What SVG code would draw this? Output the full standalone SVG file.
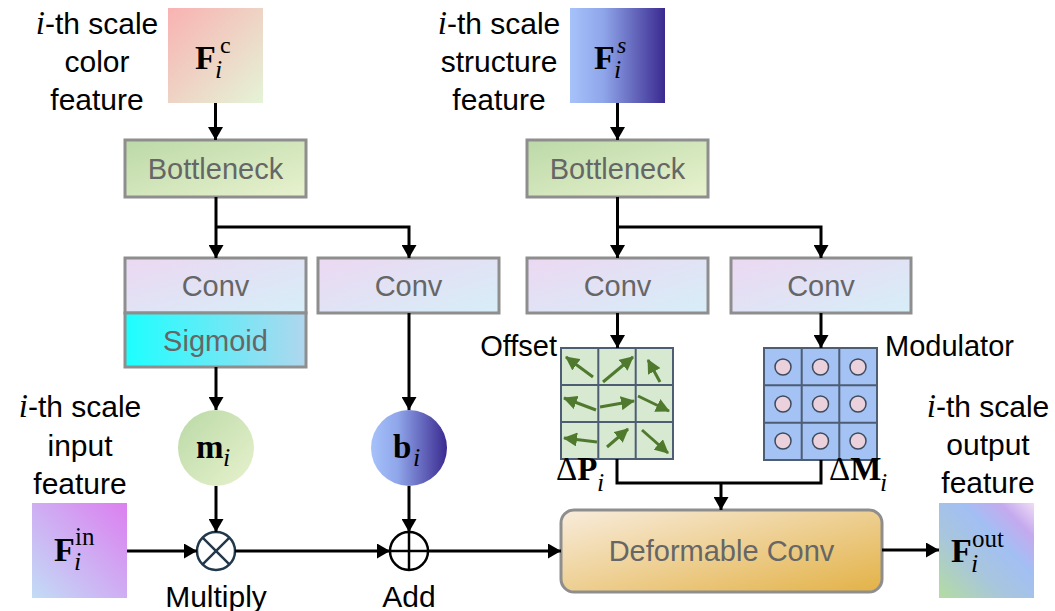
<svg xmlns="http://www.w3.org/2000/svg" width="1055" height="611" viewBox="0 0 1055 611">
  <defs>
    <linearGradient id="gFc" x1="0" y1="0" x2="1" y2="1">
      <stop offset="0" stop-color="#f9b2b2"/>
      <stop offset="1" stop-color="#e4f4d6"/>
    </linearGradient>
    <linearGradient id="gFs" x1="0" y1="0" x2="1" y2="0">
      <stop offset="0" stop-color="#a6c2fa"/>
      <stop offset="0.35" stop-color="#8fa6ea"/>
      <stop offset="1" stop-color="#3b2a90"/>
    </linearGradient>
    <linearGradient id="gFin" x1="0" y1="1" x2="1" y2="0">
      <stop offset="0" stop-color="#c2dcf6"/>
      <stop offset="1" stop-color="#dc7ff0"/>
    </linearGradient>
    <linearGradient id="gFout" x1="0" y1="1" x2="1" y2="0">
      <stop offset="0" stop-color="#b4dca0"/>
      <stop offset="0.35" stop-color="#a8c6dc"/>
      <stop offset="0.62" stop-color="#a2bff4"/>
      <stop offset="0.82" stop-color="#c4aaee"/>
      <stop offset="1" stop-color="#f0dcf6"/>
    </linearGradient>
    <linearGradient id="gBneck" x1="0" y1="0" x2="1" y2="1">
      <stop offset="0" stop-color="#bcd9a8"/>
      <stop offset="1" stop-color="#e8f2ce"/>
    </linearGradient>
    <linearGradient id="gConv" x1="0" y1="0" x2="1" y2="1">
      <stop offset="0" stop-color="#ecd8f2"/>
      <stop offset="1" stop-color="#d6eef8"/>
    </linearGradient>
    <linearGradient id="gSig" x1="0" y1="0" x2="1" y2="0">
      <stop offset="0" stop-color="#1cffff"/>
      <stop offset="1" stop-color="#b0d6ee"/>
    </linearGradient>
    <linearGradient id="gDef" x1="0" y1="0" x2="1" y2="1">
      <stop offset="0" stop-color="#f8ecdc"/>
      <stop offset="1" stop-color="#e3b247"/>
    </linearGradient>
    <linearGradient id="gM" x1="0" y1="0" x2="1" y2="1">
      <stop offset="0" stop-color="#bad9a6"/>
      <stop offset="1" stop-color="#e8f2ce"/>
    </linearGradient>
    <linearGradient id="gB" x1="0" y1="0" x2="1" y2="0">
      <stop offset="0" stop-color="#a6c2fa"/>
      <stop offset="0.35" stop-color="#8fa6ea"/>
      <stop offset="1" stop-color="#3b2a90"/>
    </linearGradient>
    <marker id="arrow" viewBox="0 0 13 15" refX="13" refY="7.5" markerWidth="13" markerHeight="15" markerUnits="userSpaceOnUse" orient="auto">
      <path d="M0,0 L13,7.5 L0,15 Z" fill="#000"/>
    </marker>
    <marker id="garrow" viewBox="0 0 14 14" refX="13" refY="7" markerWidth="14" markerHeight="14" markerUnits="userSpaceOnUse" orient="auto">
      <path d="M0,0 L14,7 L0,14 Z" fill="#4f7a2e"/>
    </marker>
  </defs>
  <style>
    .lbl { font-family: "Liberation Sans", Arial, sans-serif; font-size: 30px; fill: #000; text-anchor: middle; }
    .lbl-r { font-family: "Liberation Sans", Arial, sans-serif; font-size: 29px; fill: #000; }
    .mi { font-family: "Liberation Serif", "DejaVu Serif", serif; font-style: italic; font-size: 33px; }
    .box { stroke: #8e8e8e; stroke-width: 3; }
    .btxt { font-family: "Liberation Sans", Arial, sans-serif; font-size: 29px; fill: #666; text-anchor: middle; }
    .math { font-family: "Liberation Serif", "DejaVu Serif", serif; fill: #000; }
    .bold { font-weight: bold; }
    .it { font-style: italic; }
    .conn { fill: none; stroke: #000; stroke-width: 3; }
    .grid { stroke: #4c5d74; stroke-width: 2; }
    .off { stroke: #4f7a2e; stroke-width: 3; fill: none; marker-end: url(#garrow); }
    .dot { fill: #ead1dc; stroke: #3c4b5e; stroke-width: 1.5; }
  </style>

  <rect width="1055" height="611" fill="#fff"/>

  <!-- side captions -->
  <g id="cap-color">
    <text class="lbl" x="97" y="34"><tspan class="mi">i</tspan>-th scale</text>
    <text class="lbl" x="97" y="72">color</text>
    <text class="lbl" x="97" y="110">feature</text>
  </g>
  <g id="cap-structure">
    <text class="lbl" x="499" y="34"><tspan class="mi">i</tspan>-th scale</text>
    <text class="lbl" x="499" y="72">structure</text>
    <text class="lbl" x="499" y="110">feature</text>
  </g>
  <g id="cap-input">
    <text class="lbl" x="80" y="417"><tspan class="mi">i</tspan>-th scale</text>
    <text class="lbl" x="80" y="456">input</text>
    <text class="lbl" x="80" y="494">feature</text>
  </g>
  <g id="cap-output">
    <text class="lbl" x="988" y="417"><tspan class="mi">i</tspan>-th scale</text>
    <text class="lbl" x="988" y="455">output</text>
    <text class="lbl" x="988" y="493">feature</text>
  </g>

  <!-- feature tiles -->
  <g id="node-Fc">
    <rect x="168" y="8" width="95" height="95" fill="url(#gFc)"/>
    <text class="math bold" x="195" y="69" font-size="34">F</text>
    <text class="math it" x="215" y="78" font-size="26">i</text>
    <text class="math" x="220" y="53" font-size="24">c</text>
  </g>
  <g id="node-Fs">
    <rect x="570" y="8" width="95" height="95" fill="url(#gFs)"/>
    <text class="math bold" x="594" y="69" font-size="34">F</text>
    <text class="math it" x="614" y="78" font-size="26">i</text>
    <text class="math it" x="617" y="53" font-size="24">s</text>
  </g>
  <g id="node-Fin">
    <rect x="32" y="503" width="95" height="95" fill="url(#gFin)"/>
    <text class="math bold" x="54" y="561" font-size="34">F</text>
    <text class="math it" x="74" y="570" font-size="26">i</text>
    <text class="math" x="75" y="545" font-size="25">in</text>
  </g>
  <g id="node-Fout">
    <rect x="939" y="503" width="95" height="95" fill="url(#gFout)"/>
    <text class="math bold" x="951" y="562" font-size="34">F</text>
    <text class="math it" x="971" y="572" font-size="26">i</text>
    <text class="math" x="972" y="547" font-size="25">out</text>
  </g>

  <!-- colour branch -->
  <g id="node-bottleneck-c">
    <rect class="box" x="125" y="140" width="181" height="57" fill="url(#gBneck)"/>
    <text class="btxt" x="215.5" y="179">Bottleneck</text>
  </g>
  <g id="node-conv-m">
    <rect class="box" x="125" y="258" width="181" height="55" fill="url(#gConv)"/>
    <text class="btxt" x="215.5" y="296">Conv</text>
  </g>
  <g id="node-sigmoid">
    <rect class="box" x="125" y="313" width="181" height="54" fill="url(#gSig)"/>
    <text class="btxt" x="215.5" y="351">Sigmoid</text>
  </g>
  <g id="node-conv-b">
    <rect class="box" x="318" y="258" width="181" height="55" fill="url(#gConv)"/>
    <text class="btxt" x="408.5" y="296">Conv</text>
  </g>
  <g id="node-m">
    <circle cx="216" cy="448" r="38" fill="url(#gM)"/>
    <text class="math bold" x="196" y="458" font-size="33">m</text>
    <text class="math it" x="223" y="466" font-size="26">i</text>
  </g>
  <g id="node-b">
    <circle cx="409" cy="448" r="38" fill="url(#gB)"/>
    <text class="math bold" x="393" y="458" font-size="33">b</text>
    <text class="math it" x="413" y="466" font-size="26">i</text>
  </g>
  <g id="node-multiply">
    <circle cx="216" cy="551" r="19" fill="#fff" stroke="#22384c" stroke-width="2.5"/>
    <path d="M202.6,537.6 L229.4,564.4 M229.4,537.6 L202.6,564.4" stroke="#22384c" stroke-width="2.5"/>
    <text class="lbl" x="216" y="607">Multiply</text>
  </g>
  <g id="node-add">
    <circle cx="409" cy="551" r="19" fill="#fff" stroke="#000" stroke-width="2.5"/>
    <path d="M390,551 H428 M409,532 V570" stroke="#000" stroke-width="2.5"/>
    <text class="lbl" x="409" y="607">Add</text>
  </g>

  <!-- structure branch -->
  <g id="node-bottleneck-s">
    <rect class="box" x="527" y="140" width="181" height="57" fill="url(#gBneck)"/>
    <text class="btxt" x="617.5" y="179">Bottleneck</text>
  </g>
  <g id="node-conv-p">
    <rect class="box" x="527" y="258" width="181" height="55" fill="url(#gConv)"/>
    <text class="btxt" x="617.5" y="296">Conv</text>
  </g>
  <g id="node-conv-q">
    <rect class="box" x="731" y="258" width="180" height="55" fill="url(#gConv)"/>
    <text class="btxt" x="821" y="296">Conv</text>
  </g>

  <g id="node-offset">
    <rect x="561" y="348" width="112" height="111" fill="#d8e9d2"/>
    <path class="grid" fill="none" d="M561,348 H673 V459 H561 Z M598.3,348 V459 M635.7,348 V459 M561,385 H673 M561,422 H673"/>
    <line class="off" x1="593" y1="377" x2="566" y2="357"/>
    <line class="off" x1="603" y1="382" x2="633" y2="357"/>
    <line class="off" x1="660" y1="382" x2="648" y2="360"/>
    <line class="off" x1="596" y1="410" x2="564" y2="398"/>
    <line class="off" x1="600" y1="407" x2="634" y2="401"/>
    <line class="off" x1="638" y1="396" x2="669" y2="411"/>
    <line class="off" x1="597" y1="442" x2="564" y2="438"/>
    <line class="off" x1="607" y1="447" x2="628" y2="429"/>
    <line class="off" x1="642" y1="430" x2="668" y2="453"/>
    <text class="lbl-r" x="557" y="356" text-anchor="end">Offset</text>
    <text class="math" x="556" y="480" font-size="33"><tspan>Δ</tspan><tspan class="bold">P</tspan></text>
    <text class="math it" x="597" y="491" font-size="26">i</text>
  </g>

  <g id="node-modulator">
    <rect x="764" y="348" width="113" height="112" fill="#a4c2f4"/>
    <path class="grid" fill="none" d="M764,348 H877 V460 H764 Z M801.7,348 V460 M839.3,348 V460 M764,385.3 H877 M764,422.7 H877"/>
    <circle class="dot" cx="783" cy="367" r="8"/>
    <circle class="dot" cx="820.5" cy="367" r="8"/>
    <circle class="dot" cx="858" cy="367" r="8"/>
    <circle class="dot" cx="783" cy="404" r="8"/>
    <circle class="dot" cx="820.5" cy="404" r="8"/>
    <circle class="dot" cx="858" cy="404" r="8"/>
    <circle class="dot" cx="783" cy="441" r="8"/>
    <circle class="dot" cx="820.5" cy="441" r="8"/>
    <circle class="dot" cx="858" cy="441" r="8"/>
    <text class="lbl-r" x="885" y="356">Modulator</text>
    <text class="math" x="829" y="480" font-size="33"><tspan>Δ</tspan><tspan class="bold">M</tspan></text>
    <text class="math it" x="880" y="491" font-size="26">i</text>
  </g>

  <g id="node-deformable">
    <rect class="box" x="561" y="510" width="321" height="82" rx="13" fill="url(#gDef)"/>
    <text class="btxt" x="721.5" y="561">Deformable Conv</text>
  </g>

  <!-- connectors -->
  <g id="connectors">
    <path class="conn" d="M215.5,103 V140" marker-end="url(#arrow)"/>
    <path class="conn" d="M216,197 V258" marker-end="url(#arrow)"/>
    <path class="conn" d="M216,227 H409 V258" marker-end="url(#arrow)"/>
    <path class="conn" d="M216,367 V410" marker-end="url(#arrow)"/>
    <path class="conn" d="M216,486 V532" marker-end="url(#arrow)"/>
    <path class="conn" d="M409,313 V410" marker-end="url(#arrow)"/>
    <path class="conn" d="M409,486 V532" marker-end="url(#arrow)"/>
    <path class="conn" d="M127,551 H197" marker-end="url(#arrow)"/>
    <path class="conn" d="M235,551 H390" marker-end="url(#arrow)"/>
    <path class="conn" d="M428,551 H561" marker-end="url(#arrow)"/>
    <path class="conn" d="M617.5,103 V140" marker-end="url(#arrow)"/>
    <path class="conn" d="M617.5,197 V258" marker-end="url(#arrow)"/>
    <path class="conn" d="M617.5,227 H821 V258" marker-end="url(#arrow)"/>
    <path class="conn" d="M617.5,313 V348" marker-end="url(#arrow)"/>
    <path class="conn" d="M821,313 V348" marker-end="url(#arrow)"/>
    <path class="conn" d="M617,459 V483 H821 V460"/>
    <path class="conn" d="M721,483 V510" marker-end="url(#arrow)"/>
    <path class="conn" d="M882,550 H939" marker-end="url(#arrow)"/>
  </g>
</svg>
